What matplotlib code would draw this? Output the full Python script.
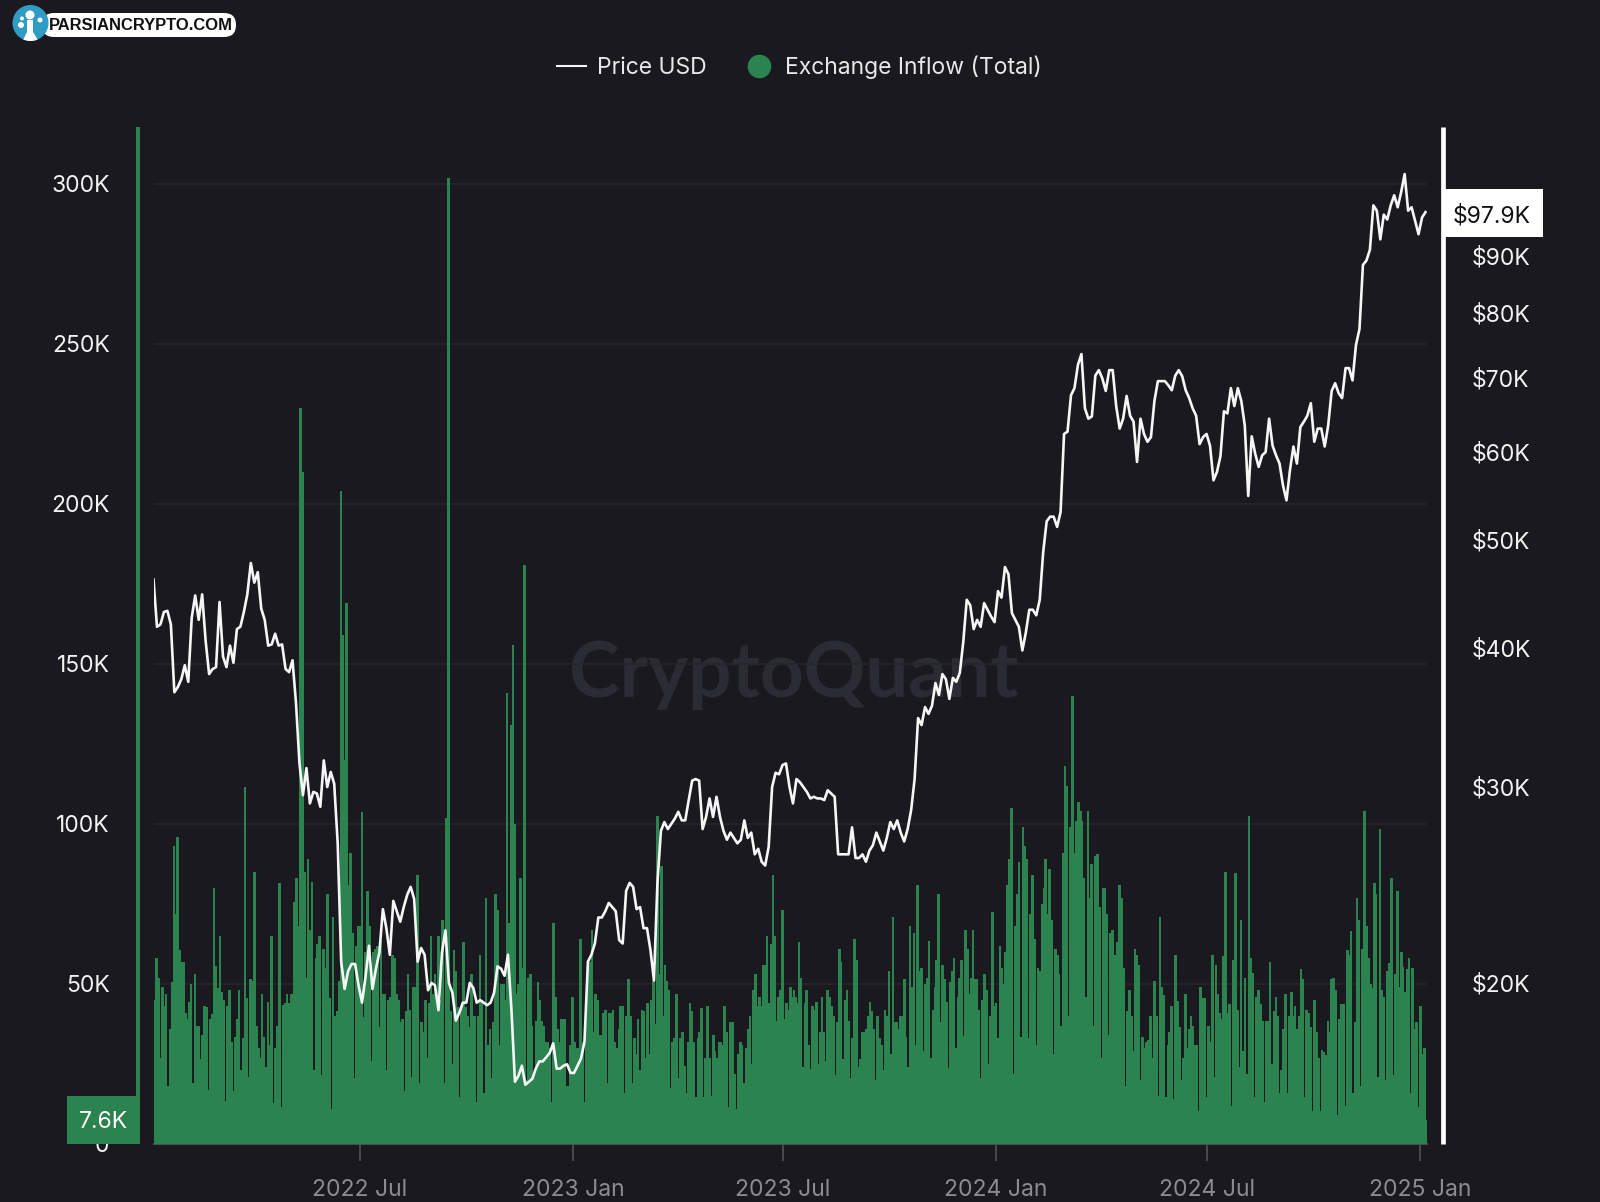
import numpy as np
import pandas as pd
import matplotlib
matplotlib.use("Agg")
import matplotlib.pyplot as plt
import matplotlib.dates as mdates
from matplotlib.lines import Line2D
from matplotlib.patches import Circle, FancyBboxPatch, Rectangle, Polygon
from matplotlib.ticker import NullLocator

# ---------- data (thousands) ----------
inflow_2022a = [45,58,52,27,49,43,47,18,36,50.5,93,72,96,60.6,57,57,41,39,44.5,50,19,53,37,37,26.5,34,43,42.7,17,39,40.6,80,55.7,48.7,65,47.4,45,13.3,43,48,32,16.5,33.5,39,48,23,33,111.7,45.6,21,51.6,51,85,37,30,27,47,33.5,24,44.5,31,65,12.7,30,37,81.6,11.5,43.4,44,47,44,47,47,75.5,83,68,230,210,85,52,89,67,82,23,58,62.5,65,21.7,61,55,78,45.6,11,71,40,41.7,51,204,159,120,169,81,91,66,20.6,62,68,68,103.6,39.6,60,79,68,26,60,61,62,36.7,63.5,47,47,23,45,45.8,59,58,47,45,38,39,16.5,41.7,53,42,21,49,49,84,19,38,35,45,27,44,65,47,53,46,65,45,70,19,102,302,41.7,25,60.6,54,42.7,14.6,42.7,63,42.7,40,36.7,53,38]
inflow_2022b = [40,13,40,59,45,16,77,31,36,20.5,38,78,73,31,50,50,45,141,69,131,156,100,47,50,83,55,181,20,52,53,37,22,38.5,50.5,45,38.5,37,32,32,30,13,69,46,36,32,39,39,39,18,18,31,46,32,30,30,64,32,13,44,57,57,67,35,47,45,34,34,41,42,19,41,41,42,32,30,36,43,43,16,40,51.5,40,19,33,28,39,23,42,41.7,27,44,28,45,51,37.5,102.6,53,87,40,56,51,48,17.5,32,33,47,20.5,33,35,24.5,16,32,44,41.7,32,14.6,33,35,42.5,14.6,27,43,27,15,34,29,27,32,32,31,43,35,11.5,38,38,22,11,28,32,31,19,30,36,40,25,48,53,43,46,43,56,56,65,44,62.5,84,65,38.5,46,48,73,39,44,42,49,46,48]
inflow_2023 = [46,44,63,52,24,44,48,31,23.5,43,42,44.5,25,35,46,35,26,48,46,43,40,21.7,38,61,57,26.5,45,48,38.5,20.5,33,64,57.5,24,26.5,35,35,36,40,44.5,41.7,36,20,40,33,31,23,42,40,54,28,71,38,38,36,40,40,51.5,33.5,24,68,49,66,31,81,54,55,29,50,52,63.5,27,42,49,57.6,78,38,56,51.5,44.5,23.6,50.5,54,58,30,46,52,57.5,33.6,67,61,47,52,67,51.5,51.5,42,20.5,45,53,48,25,40,72.6,43,44,33,62,55,50,60,81,89,105,22,68,78,88,33.5,99,93,89,33,72,84,64,31,55,54,75,80,89,72,86,70,28,61,59,53,37,91,118,112,40,99,140,91,101,107,104,101,83,46,104,77,87.5,37,90,90.6,74,27,80,80,72,34,66,67]
inflow_2024 = [50.5,59,63,81,77,55,18,41.5,48,40,29,61,59,56,20,33.5,30,32,32.5,40,27,51,40,15,71,49,46.7,14.6,31,35,43,14,59,44.6,36.7,20,27,47,30,36,40,37,31,31,10.4,49,45.6,45.6,14.6,37,32,59,21,56,47,41,39,58.6,85,41,43.7,12,57.6,84.7,42,24,70,29,52,22,102.6,58,53.4,14.6,46,48,43.7,38.5,13,38.5,38.5,57,25,41.5,46,40,16,23,36,47,16,40,47.4,40,43,36,40,54.7,51.5,14.6,42,41,36.7,10.4,45,35,27,10.4,29.4,28.6,27.8,38.5,35,51.5,52,48,9,39,43.7,43.7,12,60.6,59,66.7,16,38,77,70,18,61,104,68,58,50,48.6,81.6,78,21,98.4,48,46,20,54,56.5,83,21.7,53,79,49,60,55.4,47.4,54.7,58,16,55,36,38,11.5,43,28,30,7.6]
price_2022 = [46.1,41.8,42.0,43.1,43.2,42.0,36.5,36.9,37.5,38.6,37.3,42.6,44.6,42.4,44.7,40.6,37.9,38.3,38.45,44.0,39.3,38.45,40.2,38.8,41.6,41.8,43.1,44.7,47.7,45.8,46.8,43.4,42.4,40.2,40.3,41.2,40.2,40.3,38.3,38.05,39.0,35.7,31.5,29.5,31.2,29.0,29.7,29.6,28.8,31.7,30.0,30.95,30.2,26.7,20.9,19.75,20.5,20.8,20.8,19.9,19.2,20.25,21.6,19.75,20.6,21.3,23.3,22.4,21.2,23.7,23.2,22.7,23.4,24.0,24.4,23.8,20.9,21.5,21.2,19.7,20.0,19.9,18.9,21.3,22.3,20.0,19.6,18.5,18.8,19.2,19.2,20.0,19.8,19.2,19.3,19.2,19.1,19.2,19.6,20.7,20.6,20.3,21.2,18.9,16.3,16.5,16.85,16.2,16.3,16.4,16.75,17.0,17.0,17.15,17.3,17.65,16.75,16.75,16.85,16.9,16.6,16.6]
price_2023 = [16.85,17.1,17.7,20.9,21.2,21.7,22.9,22.9,23.2,23.6,23.4,23.2,21.85,21.7,24.2,24.6,24.4,23.3,23.4,22.4,22.4,21.4,20.1,24.6,27.4,27.9,27.5,27.8,28.1,28.5,28.0,28.0,29.2,30.4,30.5,30.4,27.5,28.2,29.3,28.2,29.4,28.2,27.4,26.9,27.3,27.0,26.7,26.9,28.0,27.0,27.3,26.1,26.4,25.7,25.5,26.5,30.0,30.9,30.8,31.4,31.5,30.0,29.0,30.5,30.3,30.0,29.7,29.3,29.4,29.3,29.3,29.2,29.8,29.6,29.4,26.1,26.1,26.1,26.1,27.6,25.9,25.9,26.1,25.7,26.3,26.6,27.3,26.8,26.3,27.0,27.9,27.5,28.0,27.3,26.8,27.5,28.6,30.5,34.6,34.1,35.4,34.9,35.5,37.2,36.3,37.9,37.5,36.0,37.6,37.3,38.0,40.5,44.2,43.7,41.6,42.4,41.8,43.9,43.3,42.7,42.2,45.0]
price_2024 = [44.4,47.3,46.6,43.0,42.4,41.8,39.8,41.3,43.3,43.3,42.8,44.2,48.8,52.0,52.5,52.5,51.4,53.0,62.3,62.6,67.5,68.5,71.9,73.5,65.7,64.3,64.6,70.3,71.1,69.9,68.1,71.1,71.1,66.0,63.0,64.3,67.4,64.7,63.9,58.8,64.3,62.3,61.3,61.9,66.7,69.5,69.5,69.5,68.9,68.2,70.3,71.1,70.2,68.2,67.1,65.7,64.7,61.0,61.9,62.3,60.8,56.6,57.6,59.5,65.3,65.0,68.5,66.0,68.5,66.7,63.4,54.8,62.0,59.8,58.2,59.6,60.0,64.3,60.8,59.6,58.6,56.0,54.3,57.8,60.7,58.6,63.2,63.9,64.7,66.4,61.3,63.0,63.0,60.7,63.4,68.1,69.2,67.8,67.1,71.4,71.4,69.6,74.9,77.4,88.4,89.2,91.2,100.0,98.9,93.2,98.1,97.1,100.0,102.1,99.6,102.8,106.7,98.9,99.6,96.9,94.2,97.5,98.6]
inflow_spans = [("2022-01-05", "2022-10-07"), ("2022-10-08", "2023-07-11"),
                ("2023-07-12", "2024-04-11"), ("2024-04-12", "2025-01-06 16:00")]
price_start = "2022-01-04"
price_step_days = 3
inflow_ticks = [0, 50, 100, 150, 200, 250, 300]
inflow_tick_labels = ["0", "50K", "100K", "150K", "200K", "250K", "300K"]
price_ticks = [20, 30, 40, 50, 60, 70, 80, 90]
price_tick_labels = ["$20K", "$30K", "$40K", "$50K", "$60K", "$70K", "$80K", "$90K"]
date_ticks = ["2022-07-01", "2023-01-01", "2023-07-01", "2024-01-01", "2024-07-01", "2025-01-01"]
date_tick_labels = ["2022 Jul", "2023 Jan", "2023 Jul", "2024 Jan", "2024 Jul", "2025 Jan"]
last_inflow_label = "7.6K"
last_price_label = "$97.9K"

# ---------- style ----------
BG = "#19191f"
GREEN = "#2b8350"
GRID = "#26262c"
W, H = 1600, 1202
plt.rcParams["font.family"] = ["Inter", "DejaVu Sans"]
FS = 16.5

fig = plt.figure(figsize=(W / 100, H / 100), dpi=100, facecolor=BG)
L, R, T, B = 153.5, 1427, 127, 1144
ax = fig.add_axes([L / W, 1 - B / H, (R - L) / W, (B - T) / H])
ax.patch.set_visible(False)
ax2 = ax.twinx()
ax2.patch.set_visible(False)
ax.set_zorder(1); ax2.set_zorder(2)

# inflow bars
xs, vs = [], []
for vals, (a, b) in zip([inflow_2022a, inflow_2022b, inflow_2023, inflow_2024], inflow_spans):
    xs.append(mdates.date2num(pd.date_range(a, b, periods=len(vals))))
    vs.append(vals)
xs = np.concatenate(xs); vs = np.concatenate(vs)
ax.bar(xs, vs, width=2.25, color=GREEN, linewidth=0, antialiased=False, zorder=3)
ax.set_ylim(0, 317.8)

# price line
price = np.array(price_2022 + price_2023 + price_2024)
px = mdates.date2num(pd.Timestamp(price_start)) + np.arange(len(price)) * price_step_days
ax2.plot(px, price, color="#f6f6f6", lw=1.9, solid_joinstyle="round", zorder=5)
ax2.set_yscale("log")
ax2.set_ylim(14.33, 117.6)

x0 = mdates.date2num(pd.Timestamp(price_start))
ax.set_xlim(x0, x0 + 1099.3)

# axes furniture
ax.set_yticks(inflow_ticks, inflow_tick_labels)
ax.set_xticks(mdates.date2num(pd.to_datetime(date_ticks)), date_tick_labels)
ax.tick_params(axis="y", length=0, pad=20.3, labelsize=FS, labelcolor="#f2f2f2")
ax.tick_params(axis="x", length=12.5, width=1.3, color="#4c4c52", pad=13, labelsize=FS, labelcolor="#8b8b92")
ax.yaxis.grid(True, color=GRID, lw=1.2, zorder=1)
ax.set_axisbelow(True)
ax2.yaxis.set_minor_locator(NullLocator())
ax2.set_yticks(price_ticks, price_tick_labels)
ax2.yaxis.set_minor_locator(NullLocator())
ax2.tick_params(axis="y", which="both", length=0, pad=20.7, labelsize=FS, labelcolor="#f2f2f2")
for a in (ax, ax2):
    for s in ("top", "left", "right"):
        a.spines[s].set_visible(False)
ax.spines["bottom"].set_color("#4c4c52"); ax.spines["bottom"].set_linewidth(1.5)
ax2.spines["bottom"].set_visible(False)
sl = ax.spines["left"]; sl.set_visible(True)
sl.set_position(("outward", 11.3)); sl.set_color(GREEN); sl.set_linewidth(2.9); sl.set_capstyle("butt")
sr = ax2.spines["right"]; sr.set_visible(True)
sr.set_position(("outward", 11.3)); sr.set_color("#ffffff"); sr.set_linewidth(3.4); sr.set_capstyle("butt")

# watermark
fig.text(794 / W, 1 - 675 / H, "CryptoQuant", color="#2b2b33", fontsize=55, ha="center", va="center",
         family=["Lato", "DejaVu Sans"], fontweight="bold", zorder=0.5)

# legend
handles = [Line2D([], [], color="#f4f4f4", lw=1.5),
           Line2D([], [], color=GREEN, marker="o", ms=16, lw=0)]
leg = fig.legend(handles, ["Price USD", "Exchange Inflow (Total)"], loc="center", ncol=2,
                 bbox_to_anchor=(799 / W, 1 - 67 / H), frameon=False, fontsize=FS, labelcolor="#e8e8e8",
                 handlelength=1.3, columnspacing=1.66, handletextpad=0.45)

# overlay in pixel coordinates: value tags and logo
ov = fig.add_axes([0, 0, 1, 1], zorder=10)
ov.set_xlim(0, W); ov.set_ylim(H, 0); ov.set_axis_off(); ov.patch.set_visible(False)
ov.add_patch(Rectangle((67, 1096), 73, 47.5, color=GREEN, lw=0))
ov.text(103, 1122, last_inflow_label, color="#ffffff", fontsize=FS, ha="center", va="center")
ov.add_patch(Rectangle((1445, 189), 98, 48, color="#ffffff", lw=0))
ov.text(1492, 216, last_price_label, color="#111111", fontsize=FS, ha="center", va="center")
ov.add_patch(FancyBboxPatch((42, 13), 194, 24, boxstyle="round,pad=0,rounding_size=12", color="#ffffff", lw=0))
ov.text(140.5, 25, "PARSIANCRYPTO.COM", color="#111111", fontsize=11.9, ha="center", va="center",
        family=["Liberation Sans", "DejaVu Sans"], fontweight="bold")
disc = Circle((30.5, 23), 18, color="#2f9cc4", lw=0)
ov.add_patch(disc)
for cx, cy, r in [(30, 15, 4.5), (21, 25, 3), (40, 20, 2.5), (22, 18.5, 2)]:
    ov.add_patch(Circle((cx, cy), r, color="#ffffff", lw=0))
trunk = Polygon([(27, 20), (33, 20), (33, 32), (39, 42), (22, 42), (27, 32)], closed=True, color="#ffffff", lw=0)
ov.add_patch(trunk)
trunk.set_clip_path(disc)

fig.savefig("out.png", dpi=100, facecolor=BG)
